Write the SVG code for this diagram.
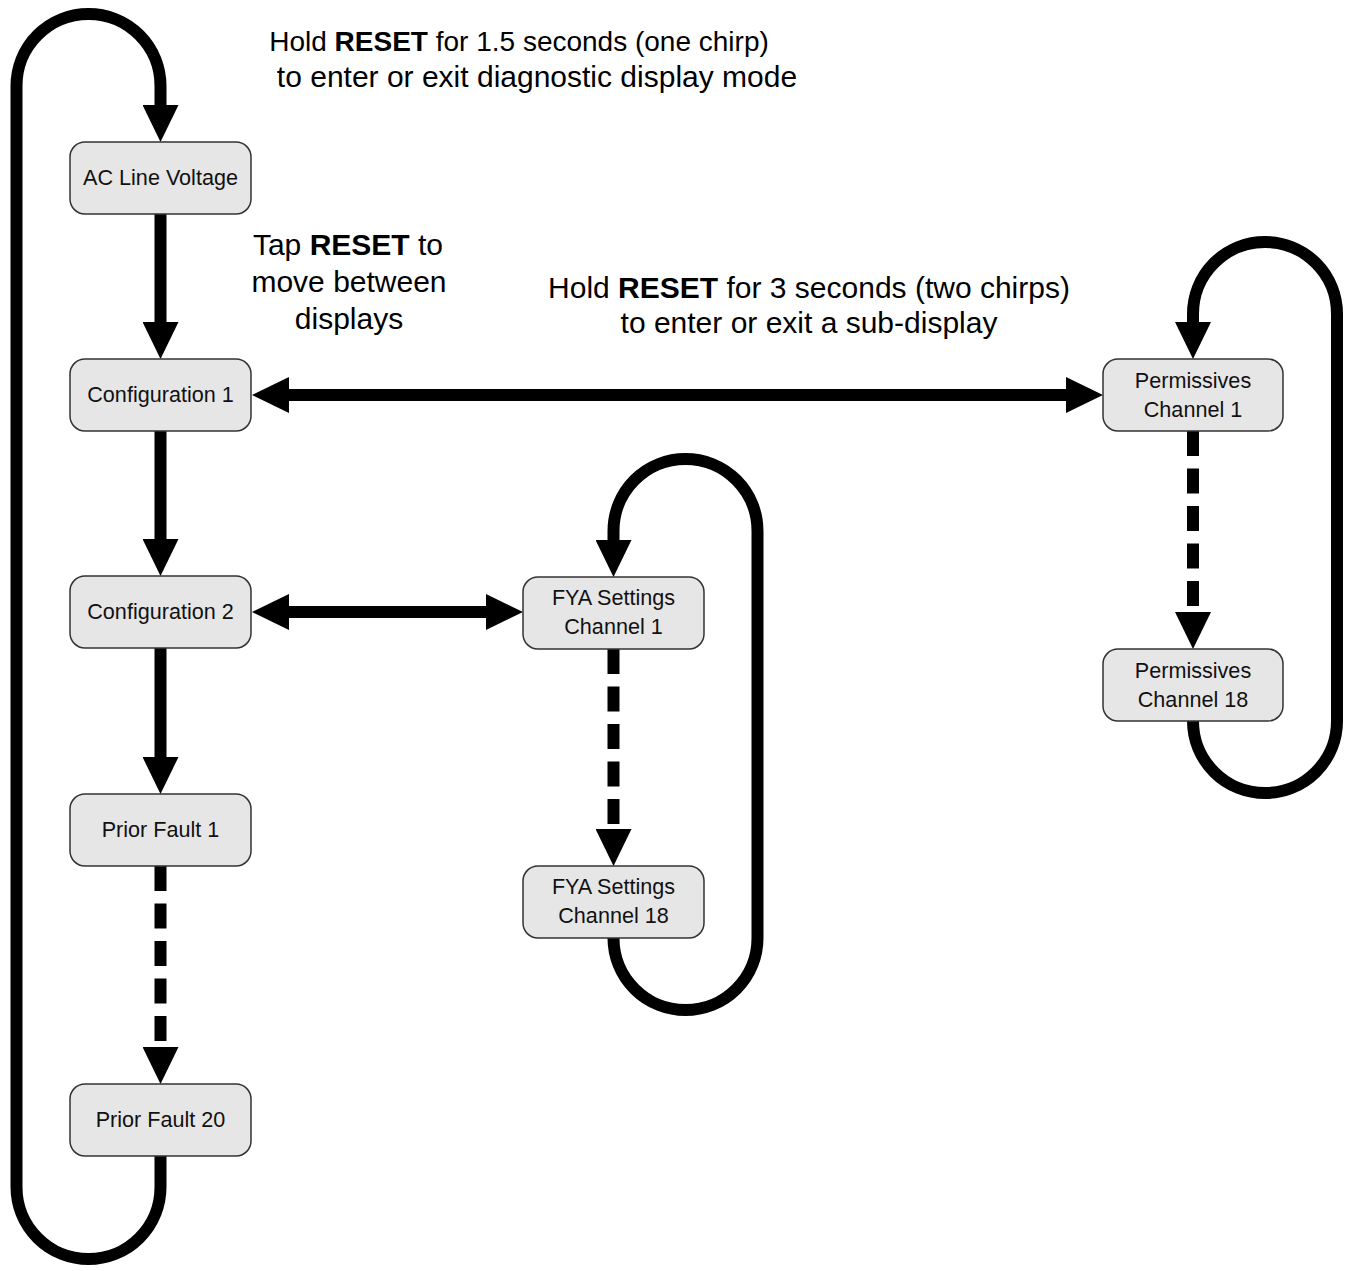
<svg xmlns="http://www.w3.org/2000/svg" width="1348" height="1271" viewBox="0 0 1348 1271">
<style>
.box{fill:#e6e6e6;stroke:#333;stroke-width:1.5}
.nt{font-family:"Liberation Sans",Arial,sans-serif;font-size:21.6px;fill:#111;text-anchor:middle}
.ht{font-family:"Liberation Sans",Arial,sans-serif;font-size:30px;fill:#000;text-anchor:middle}
.b{font-weight:bold}
.c{fill:none;stroke:#000;stroke-width:12}
.d{stroke-dasharray:25 12.5}
</style>
<defs>
<marker id="ah" markerUnits="userSpaceOnUse" markerWidth="37" markerHeight="36" viewBox="0 0 37 36" refX="0" refY="18" orient="auto-start-reverse">
<path d="M0,0 L37,18 L0,36 z" fill="#000"/>
</marker>
</defs>
<rect width="1348" height="1271" fill="#fff"/>
<g id="connectors">
<path class="c" d="M160.5,1156 L160.5,1187 A72,72 0 0 1 16.5,1187 L16.5,86 A72,72 0 0 1 160.5,86 L160.5,105" marker-end="url(#ah)"/>
<path class="c" d="M160.5,213 L160.5,322" marker-end="url(#ah)"/>
<path class="c" d="M160.5,431 L160.5,539" marker-end="url(#ah)"/>
<path class="c" d="M160.5,648 L160.5,757" marker-end="url(#ah)"/>
<path class="c d" d="M160.5,866 L160.5,1047" marker-end="url(#ah)"/>
<path class="c" d="M289,395 L1066,395" marker-start="url(#ah)" marker-end="url(#ah)"/>
<path class="c" d="M289,612 L486,612" marker-start="url(#ah)" marker-end="url(#ah)"/>
<path class="c d" d="M613.5,649 L613.5,829" marker-end="url(#ah)"/>
<path class="c" d="M613.5,938 A72,72 0 0 0 757.5,938 L757.5,531 A72,72 0 0 0 613.5,531 L613.5,540" marker-end="url(#ah)"/>
<path class="c d" d="M1193,431 L1193,612" marker-end="url(#ah)"/>
<path class="c" d="M1193,721 A72,72 0 0 0 1337,721 L1337,314 A72,72 0 0 0 1193,314 L1193,322" marker-end="url(#ah)"/>
</g>
<g id="n-ac"><rect class="box" x="70" y="142" width="181" height="72" rx="15"/><text class="nt" x="160.5" y="185">AC Line Voltage</text></g>
<g id="n-cfg1"><rect class="box" x="70" y="359" width="181" height="72" rx="15"/><text class="nt" x="160.5" y="402">Configuration 1</text></g>
<g id="n-cfg2"><rect class="box" x="70" y="576" width="181" height="72" rx="15"/><text class="nt" x="160.5" y="619">Configuration 2</text></g>
<g id="n-pf1"><rect class="box" x="70" y="794" width="181" height="72" rx="15"/><text class="nt" x="160.5" y="837">Prior Fault 1</text></g>
<g id="n-pf20"><rect class="box" x="70" y="1084" width="181" height="72" rx="15"/><text class="nt" x="160.5" y="1127">Prior Fault 20</text></g>
<g id="n-fya1"><rect class="box" x="523" y="577" width="181" height="72" rx="15"/><text class="nt" x="613.5" y="605">FYA Settings</text><text class="nt" x="613.5" y="634">Channel 1</text></g>
<g id="n-fya18"><rect class="box" x="523" y="866" width="181" height="72" rx="15"/><text class="nt" x="613.5" y="894">FYA Settings</text><text class="nt" x="613.5" y="923">Channel 18</text></g>
<g id="n-perm1"><rect class="box" x="1103" y="359" width="180" height="72" rx="15"/><text class="nt" x="1193" y="388">Permissives</text><text class="nt" x="1193" y="417">Channel 1</text></g>
<g id="n-perm18"><rect class="box" x="1103" y="649" width="180" height="72" rx="15"/><text class="nt" x="1193" y="678">Permissives</text><text class="nt" x="1193" y="707">Channel 18</text></g>
<g id="labels">
<text class="ht" x="519" y="51" style="font-size:28px">Hold <tspan class="b">RESET</tspan> for 1.5 seconds (one chirp)</text>
<text class="ht" x="537" y="87">to enter or exit diagnostic display mode</text>
<text class="ht" x="348" y="255">Tap <tspan class="b">RESET</tspan> to</text>
<text class="ht" x="349" y="292">move between</text>
<text class="ht" x="349" y="329">displays</text>
<text class="ht" x="809" y="298">Hold <tspan class="b">RESET</tspan> for 3 seconds (two chirps)</text>
<text class="ht" x="809" y="333">to enter or exit a sub-display</text>
</g>
</svg>
